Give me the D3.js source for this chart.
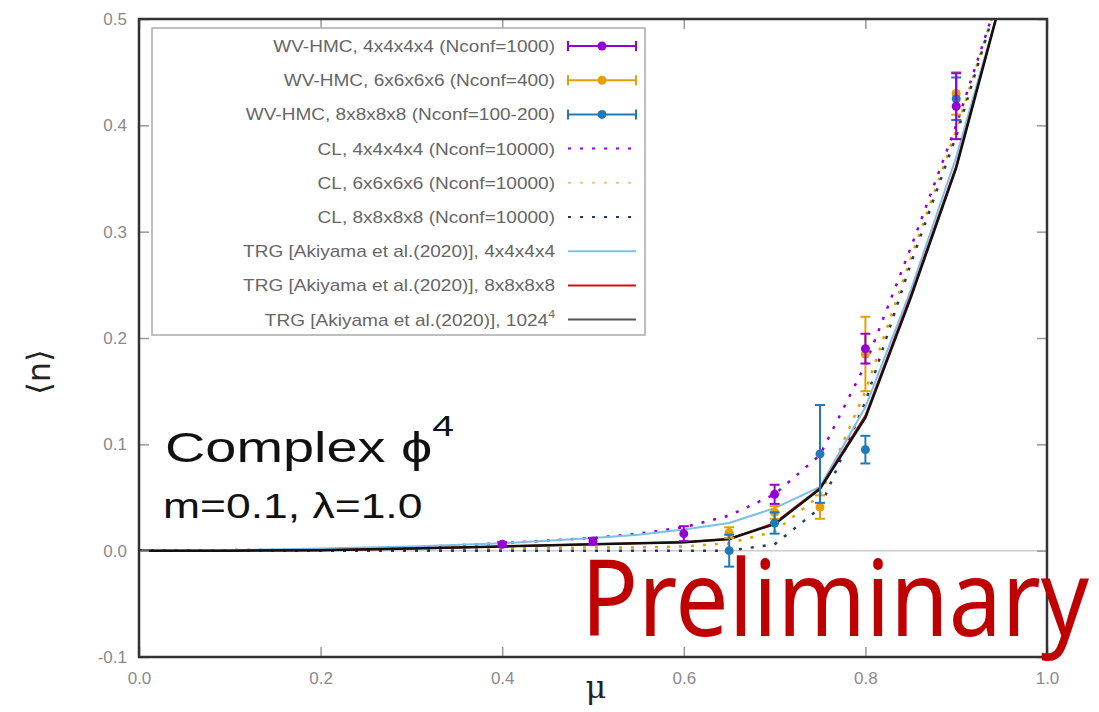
<!DOCTYPE html>
<html>
<head>
<meta charset="utf-8">
<script src="https://cdn.jsdelivr.net/npm/d3@7"></script>
<style>
  body { margin: 0; background: #fff; }
  svg { display: block; }
</style>
</head>
<body>
<svg id="chart" width="1099" height="712"></svg>
<script>
// ---- data ----
const muGrid = [0.0, 0.1, 0.2, 0.3, 0.4, 0.5, 0.55, 0.6, 0.65, 0.7, 0.75, 0.8, 0.85, 0.9, 0.95];

const trg1024 = [0.0, 0.0, 0.0005, 0.002, 0.004, 0.006, 0.007, 0.008, 0.011, 0.025, 0.058, 0.125, 0.238, 0.36, 0.52];
const trg8    = [0.0, 0.0, 0.0005, 0.002, 0.004, 0.006, 0.007, 0.008, 0.011, 0.026, 0.059, 0.127, 0.24, 0.362, 0.52];
const trg4    = [0.0, 0.0005, 0.002, 0.004, 0.007, 0.012, 0.015, 0.02, 0.026, 0.04, 0.06, 0.135, 0.245, 0.37, 0.52];

const cl4 = [0.0, 0.0005, 0.001, 0.003, 0.007, 0.012, 0.016, 0.022, 0.033, 0.053, 0.09, 0.175, 0.285, 0.40, 0.53];
const cl6 = [0.0, 0.0, 0.0005, 0.001, 0.002, 0.003, 0.003, 0.004, 0.007, 0.018, 0.052, 0.15, 0.275, 0.395, 0.53];
const cl8 = [0.0, 0.0, 0.0, 0.0, 0.0, 0.0, 0.0, 0.0, 0.0, 0.006, 0.04, 0.14, 0.27, 0.39, 0.53];

const wv4mu  = [0.4, 0.5, 0.6, 0.7, 0.8, 0.9];
const wv4val = [0.006, 0.009, 0.016, 0.053, 0.19, 0.418];
const wv4err = [0.002, 0.003, 0.007, 0.009, 0.014, 0.031];

const wv6mu  = [0.65, 0.7, 0.75, 0.8, 0.9];
const wv6val = [0.017, 0.036, 0.041, 0.185, 0.43];
const wv6err = [0.005, 0.006, 0.011, 0.035, 0.02];

const wv8mu  = [0.65, 0.7, 0.75, 0.8, 0.9];
const wv8val = [0.0, 0.026, 0.091, 0.095, 0.425];
const wv8err = [0.015, 0.01, 0.046, 0.013, 0.02];

const xTicks = [0.0, 0.2, 0.4, 0.6, 0.8, 1.0];
const yTicks = [-0.1, 0.0, 0.1, 0.2, 0.3, 0.4, 0.5];

const legendLabels = [
    "WV-HMC, 4x4x4x4 (Nconf=1000)",
    "WV-HMC, 6x6x6x6 (Nconf=400)",
    "WV-HMC, 8x8x8x8 (Nconf=100-200)",
    "CL, 4x4x4x4 (Nconf=10000)",
    "CL, 6x6x6x6 (Nconf=10000)",
    "CL, 8x8x8x8 (Nconf=10000)",
    "TRG [Akiyama et al.(2020)], 4x4x4x4",
    "TRG [Akiyama et al.(2020)], 8x8x8x8",
    "TRG [Akiyama et al.(2020)], 1024"
];

// colours
const cPurple = "#9400d3", cOrange = "#e69f00", cBlue = "#1f7ab5";
const cDark = "#223a6a", cLight = "#7cbfe8", cRed = "#d01010", cBlack = "#111";

// ---- layout ----
const margin = { top: 19, right: 52, bottom: 55, left: 139 },
      width = 1099 - margin.left - margin.right,
      height = 712 - margin.top - margin.bottom;

const svg = d3.select("#chart");
const g = svg.append("g").attr("transform", `translate(${margin.left},${margin.top})`);

const x = d3.scaleLinear().domain([0, 1]).range([0, width]);
const y = d3.scaleLinear().domain([-0.1, 0.5]).range([height, 0]);

// clip for lines
svg.append("defs").append("clipPath").attr("id", "clip")
   .append("rect").attr("width", width).attr("height", height);

const plot = g.append("g").attr("clip-path", "url(#clip)");

// zero line
plot.append("line")
    .attr("x1", 0).attr("x2", width)
    .attr("y1", y(0)).attr("y2", y(0))
    .attr("stroke", "#ccc").attr("stroke-width", 1.5);

const line = d3.line().x((d, i) => x(muGrid[i])).y(d => y(d));

function drawLine(vals, color, w, dash) {
    plot.append("path")
        .datum(vals)
        .attr("fill", "none")
        .attr("stroke", color)
        .attr("stroke-width", w)
        .attr("stroke-dasharray", dash || null)
        .attr("d", line);
}

drawLine(cl6, cOrange, 2.5, "3,9");
drawLine(cl8, cDark, 2.5, "3,9");
drawLine(cl4, cPurple, 2.5, "3,9");
drawLine(trg4, cLight, 2);
drawLine(trg8, cRed, 2);
drawLine(trg1024, cBlack, 2.5);

function drawPoints(mu, val, err, color) {
    const grp = plot.append("g");
    mu.forEach((m, i) => {
        const cx = x(m);
        grp.append("line")
           .attr("x1", cx).attr("x2", cx)
           .attr("y1", y(val[i] - err[i])).attr("y2", y(val[i] + err[i]))
           .attr("stroke", color).attr("stroke-width", 2);
        [val[i] - err[i], val[i] + err[i]].forEach(v => {
            grp.append("line")
               .attr("x1", cx - 5).attr("x2", cx + 5)
               .attr("y1", y(v)).attr("y2", y(v))
               .attr("stroke", color).attr("stroke-width", 2);
        });
        grp.append("circle")
           .attr("cx", cx).attr("cy", y(val[i]))
           .attr("r", 4.5).attr("fill", color);
    });
}

drawPoints(wv6mu, wv6val, wv6err, cOrange);
drawPoints(wv8mu, wv8val, wv8err, cBlue);
drawPoints(wv4mu, wv4val, wv4err, cPurple);

// ---- axes (gnuplot style: inward ticks, mirrored) ----
const labelColor = "#8a8a8a";
const fmt = d => d.toFixed(1);

g.append("g")
 .attr("transform", `translate(0,${height})`)
 .call(d3.axisBottom(x).tickValues(xTicks).tickSize(-10).tickPadding(15).tickFormat(fmt))
 .call(a => a.select(".domain").remove());
g.append("g")
 .call(d3.axisTop(x).tickValues(xTicks).tickSize(-10).tickFormat(""))
 .call(a => a.select(".domain").remove());
g.append("g")
 .call(d3.axisLeft(y).tickValues(yTicks).tickSize(-10).tickPadding(12).tickFormat(fmt))
 .call(a => a.select(".domain").remove());
g.append("g")
 .attr("transform", `translate(${width},0)`)
 .call(d3.axisRight(y).tickValues(yTicks).tickSize(-10).tickFormat(""))
 .call(a => a.select(".domain").remove());

g.selectAll(".tick line").attr("stroke", "#999").attr("stroke-width", 1.5);
g.selectAll(".tick text")
 .attr("fill", labelColor)
 .attr("font-family", "Liberation Sans, Arial, sans-serif")
 .attr("font-size", 17);

// frame
g.append("rect")
 .attr("width", width).attr("height", height)
 .attr("fill", "none").attr("stroke", "#333").attr("stroke-width", 2.5);

// ---- legend ----
const leg = g.append("g").attr("transform", "translate(13,9)");
leg.append("rect")
   .attr("width", 493).attr("height", 307)
   .attr("fill", "#fff").attr("stroke", "#aaa").attr("stroke-width", 1.5);

const legendStyles = [
    { color: cPurple, type: "err" },
    { color: cOrange, type: "err" },
    { color: cBlue, type: "err" },
    { color: cPurple, type: "dash" },
    { color: "#f0c880", type: "dash" },
    { color: cDark, type: "dash" },
    { color: cLight, type: "line" },
    { color: cRed, type: "line" },
    { color: "#555", type: "line" }
];

legendLabels.forEach((lab, i) => {
    const ly = 18 + i * 34.2;
    const t = leg.append("text")
       .attr("x", 0).attr("y", 0)
       .attr("transform", `translate(403,${ly + 6}) scale(1.12,1)`)
       .attr("text-anchor", "end")
       .attr("fill", "#666")
       .attr("font-family", "Liberation Sans, Arial, sans-serif")
       .attr("font-size", 17)
       .text(lab);
    if (i === legendLabels.length - 1) {
        t.append("tspan").attr("dy", -8).attr("font-size", 11).text("4");
    }
    const st = legendStyles[i];
    const x0 = 416, x1 = 484;
    if (st.type === "err") {
        leg.append("line").attr("x1", x0).attr("x2", x1).attr("y1", ly).attr("y2", ly)
           .attr("stroke", st.color).attr("stroke-width", 2);
        [x0, x1].forEach(xx => leg.append("line")
           .attr("x1", xx).attr("x2", xx).attr("y1", ly - 5).attr("y2", ly + 5)
           .attr("stroke", st.color).attr("stroke-width", 2));
        leg.append("circle").attr("cx", (x0 + x1) / 2).attr("cy", ly).attr("r", 4.5).attr("fill", st.color);
    } else {
        leg.append("line").attr("x1", x0).attr("x2", x1).attr("y1", ly).attr("y2", ly)
           .attr("stroke", st.color).attr("stroke-width", 2)
           .attr("stroke-dasharray", st.type === "dash" ? "3,9" : null);
    }
});

// ---- annotations ----
svg.append("text")
   .attr("transform", "translate(165,462) scale(1.3,1)")
   .attr("font-family", "Liberation Sans, Arial, sans-serif")
   .attr("font-size", 43)
   .attr("fill", "#111")
   .text("Complex \u03D5")
   .append("tspan").attr("dy", -26).attr("font-size", 30).text("4");

svg.append("text")
   .attr("transform", "translate(163,518) scale(1.27,1)")
   .attr("font-family", "Liberation Sans, Arial, sans-serif")
   .attr("font-size", 35)
   .attr("fill", "#111")
   .text("m=0.1, \u03BB=1.0");

svg.append("text")
   .attr("transform", "translate(50,372) rotate(-90)")
   .attr("text-anchor", "middle")
   .attr("font-family", "DejaVu Sans, sans-serif")
   .attr("font-size", 32)
   .attr("fill", "#222")
   .text("\u27E8n\u27E9");

svg.append("text")
   .attr("x", 596).attr("y", 698)
   .attr("text-anchor", "middle")
   .attr("font-family", "DejaVu Serif, serif")
   .attr("font-size", 32)
   .attr("fill", "#222")
   .text("\u03BC");

// watermark: squeeze horizontally so it fits to the right edge
const prelim = svg.append("text")
   .attr("x", 0).attr("y", 0)
   .attr("font-family", "Noto Sans, Open Sans, sans-serif")
   .attr("font-size", 106)
   .attr("fill", "#c00000")
   .text("Preliminary");
const natural = prelim.node().getComputedTextLength();
prelim.attr("transform", `translate(581,636) scale(${508 / natural},1)`);
</script>
</body>
</html>
